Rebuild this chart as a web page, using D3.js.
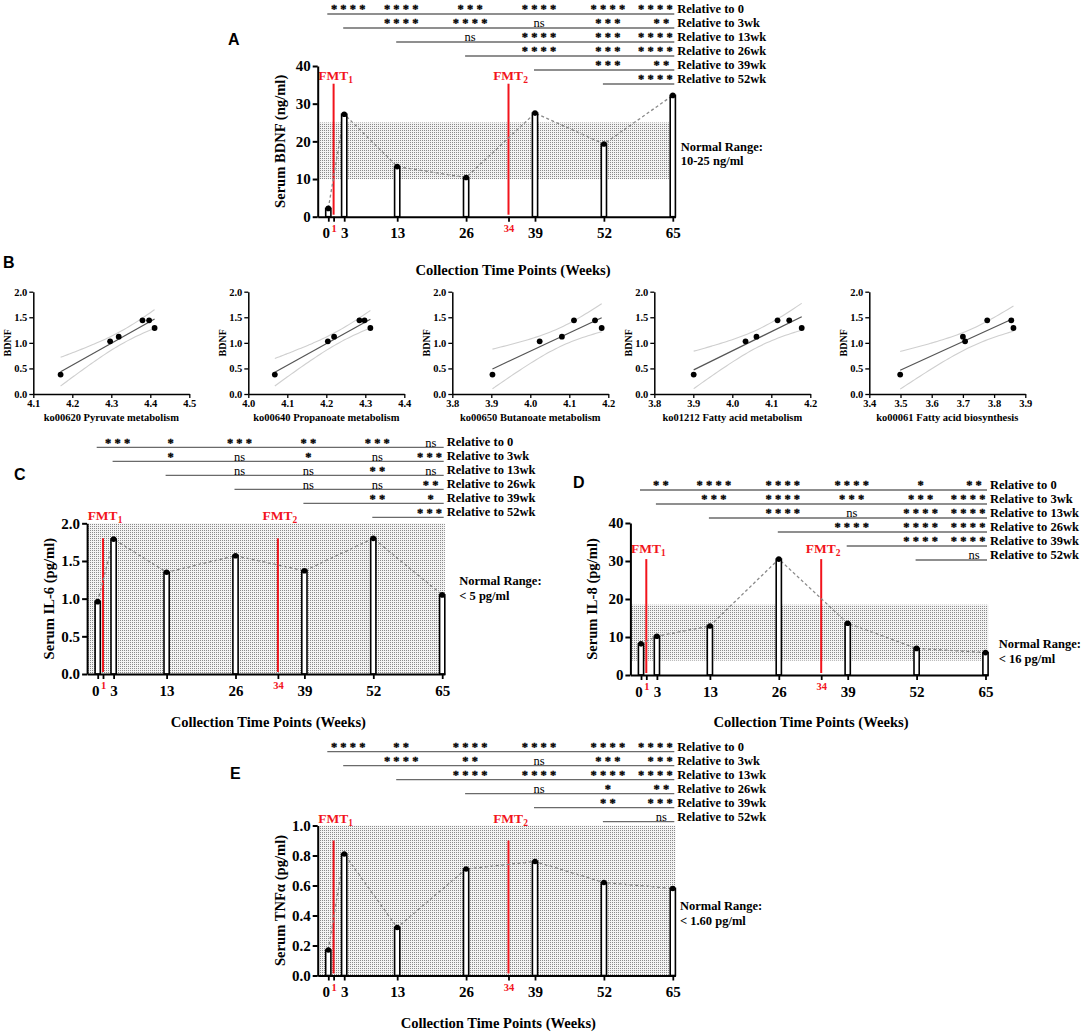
<!DOCTYPE html>
<html><head><meta charset="utf-8">
<script src="https://cdn.jsdelivr.net/npm/d3@7"></script>
<style>
body{margin:0;background:#fff}
svg{display:block}
text{font-family:"Liberation Serif","Times New Roman",serif;font-weight:bold;fill:#000}
</style>
</head><body>
<svg id="c" width="1084" height="1033"></svg>
<script>
// ---------- DATA ----------
const weeks = [0, 3, 13, 26, 39, 52, 65];
const fmtWeeks = [1, 34];
const xTickWeeks = [0, 1, 3, 13, 26, 34, 39, 52, 65];
const compWeeks = [3, 13, 26, 39, 52, 65];
const refWeeks = [0, 3, 13, 26, 39, 52];
const refLabels = ["Relative to 0", "Relative to 3wk", "Relative to 13wk", "Relative to 26wk", "Relative to 39wk", "Relative to 52wk"];

const bdnfValues = [2.2, 27.2, 13.3, 10.4, 27.5, 19.3, 32.2];
const il6Values  = [0.96, 1.79, 1.35, 1.57, 1.37, 1.80, 1.05];
const il8Values  = [8.2, 10.2, 12.9, 30.5, 13.6, 7.0, 5.9];
const tnfValues  = [0.17, 0.81, 0.32, 0.71, 0.76, 0.62, 0.58];

const bdnfTicks = [0, 10, 20, 30, 40];
const il6Ticks  = [0, 0.5, 1.0, 1.5, 2.0];
const il8Ticks  = [0, 10, 20, 30, 40];
const tnfTicks  = [0, 0.2, 0.4, 0.6, 0.8, 1.0];

const bdnfNormal = [10, 25];
const il6Normal  = [0, 2.0];
const il8Normal  = [3.8, 18.5];
const tnfNormal  = [0, 1.0];

const bdnfSig = [
  ["****", "****", "***", "****", "****", "****"],
  [null, "****", "****", "ns", "***", "**"],
  [null, null, "ns", "****", "***", "****"],
  [null, null, null, "****", "***", "****"],
  [null, null, null, null, "***", "**"],
  [null, null, null, null, null, "****"]
];
const il6Sig = [
  ["***", "*", "***", "**", "***", "ns"],
  [null, "*", "ns", "*", "ns", "***"],
  [null, null, "ns", "ns", "**", "ns"],
  [null, null, null, "ns", "ns", "**"],
  [null, null, null, null, "**", "*"],
  [null, null, null, null, null, "***"]
];
const il8Sig = [
  ["**", "****", "****", "****", "*", "**"],
  [null, "***", "****", "***", "***", "****"],
  [null, null, "****", "ns", "****", "****"],
  [null, null, null, "****", "****", "****"],
  [null, null, null, null, "****", "****"],
  [null, null, null, null, null, "ns"]
];
const tnfSig = [
  ["****", "**", "****", "****", "****", "****"],
  [null, "****", "**", "ns", "***", "***"],
  [null, null, "****", "****", "****", "****"],
  [null, null, null, "ns", "*", "**"],
  [null, null, null, null, "**", "***"],
  [null, null, null, null, null, "ns"]
];

// Panel B data
const bdnfB = [0.38, 1.03, 1.12, 1.44, 1.44, 1.29];
const koPyruvate   = [4.170, 4.297, 4.319, 4.380, 4.397, 4.411];
const koPropanoate = [4.068, 4.204, 4.220, 4.285, 4.298, 4.313];
const koButanoate  = [3.903, 4.024, 4.081, 4.112, 4.166, 4.183];
const koFattyMet   = [3.901, 4.034, 4.062, 4.116, 4.146, 4.178];
const koFattyBio   = [3.499, 3.707, 3.700, 3.778, 3.855, 3.862];
const koNames = ["ko00620 Pyruvate metabolism", "ko00640 Propanoate metabolism", "ko00650 Butanoate metabolism", "ko01212 Fatty acid metabolism", "ko00061 Fatty acid biosynthesis"];
const koDomains = [[4.1, 4.5], [4.0, 4.4], [3.8, 4.2], [3.8, 4.2], [3.4, 3.9]];
const bTicks = [0, 0.5, 1.0, 1.5, 2.0];

// ---------- DRAWING ----------
const svg = d3.select("#c");
const RED = "#f2141c";
const defs = svg.append("defs");
const pat = defs.append("pattern").attr("id", "dots").attr("width", 2).attr("height", 2).attr("patternUnits", "userSpaceOnUse");
pat.append("rect").attr("width", 2).attr("height", 2).attr("fill", "#f3f3f3");
pat.append("rect").attr("width", 1).attr("height", 1).attr("fill", "#8a8a8a");

const PXW = 5.3;

const panels = [
  {label: "A", lx: 228, ly: 45, values: bdnfValues, ticks: bdnfTicks, fmt: d3.format("d"), normal: bdnfNormal, sig: bdnfSig,
   x0: 328.3, y0: 216.7, yTop: 66, sigTop: 14, fmtTop: 35.3, fmtLabel: 37.6,
   yTitle: "Serum BDNF (ng/ml)", normText: ["Normal Range:", "10-25 ng/ml"], normX: 680.7, normY: 150.7, xtX: 513, xtY: 275},
  {label: "C", lx: 14, ly: 480, values: il6Values, ticks: il6Ticks, fmt: d3.format(".1f"), normal: il6Normal, sig: il6Sig,
   x0: 97.7, y0: 674, yTop: 523.3, sigTop: 447.3, fmtTop: 1.8, fmtLabel: 2.11,
   yTitle: "Serum IL-6 (pg/ml)", normText: ["Normal Range:", "< 5 pg/ml"], normX: 459.3, normY: 585, xtX: 268.3, xtY: 727},
  {label: "D", lx: 573, ly: 488, values: il8Values, ticks: il8Ticks, fmt: d3.format("d"), normal: il8Normal, sig: il8Sig,
   x0: 641, y0: 675, yTop: 523, sigTop: 490, fmtTop: 30.5, fmtLabel: 33.5,
   yTitle: "Serum IL-8 (pg/ml)", normText: ["Normal Range:", "< 16 pg/ml"], normX: 998.7, normY: 648, xtX: 811, xtY: 727},
  {label: "E", lx: 230, ly: 779, values: tnfValues, ticks: tnfTicks, fmt: d3.format(".1f"), normal: tnfNormal, sig: tnfSig,
   x0: 328.3, y0: 975.5, yTop: 825.5, sigTop: 751.7, fmtTop: 0.9, fmtLabel: 1.05,
   yTitle: "Serum TNF\u03b1 (pg/ml)", normText: ["Normal Range:", "< 1.60 pg/ml"], normX: 680, normY: 910, xtX: 498.3, xtY: 1028}
];

function panelLabel(t, x, y) {
  svg.append("text").text(t).attr("x", x).attr("y", y)
    .style("font-family", "'Liberation Sans', Arial, sans-serif").attr("font-size", 16);
}

panels.forEach(p => {
  const g = svg.append("g");
  const x = d3.scaleLinear().domain([-2, 65.5]).range([p.x0 - 2 * PXW, p.x0 + 65.5 * PXW]);
  const y = d3.scaleLinear().domain([0, p.ticks[p.ticks.length - 1]]).range([p.y0, p.yTop]);

  panelLabel(p.label, p.lx, p.ly);

  // shading (normal range)
  g.append("rect").attr("x", x(-2) + 1).attr("width", x(65.5) - x(-2) - 1)
    .attr("y", y(p.normal[1])).attr("height", y(p.normal[0]) - y(p.normal[1]))
    .attr("fill", "url(#dots)");

  // FMT lines
  fmtWeeks.forEach((w, i) => {
    g.append("line").attr("x1", x(w)).attr("x2", x(w)).attr("y1", y(0) - 2).attr("y2", y(p.fmtTop))
      .attr("stroke", RED).attr("stroke-width", 2);
    const t = g.append("text").attr("x", x(w) + 2).attr("y", y(p.fmtLabel) + 5)
      .attr("text-anchor", "middle").attr("font-size", 13.5).style("fill", RED);
    t.append("tspan").text("FMT");
    t.append("tspan").text(String(i + 1)).attr("font-size", 9.5).attr("dy", 3).style("fill", RED);
  });

  // dashed trend line
  g.append("path").datum(weeks.map((w, i) => [w, p.values[i]]))
    .attr("d", d3.line().x(d => x(d[0])).y(d => y(d[1])))
    .attr("fill", "none").attr("stroke", "#8a8a8a").attr("stroke-width", 1.3).attr("stroke-dasharray", "3,2.5");

  // bars
  g.selectAll(".bar").data(weeks).join("rect")
    .attr("x", w => x(w) - 2.6).attr("width", 5.2)
    .attr("y", (w, i) => y(p.values[i])).attr("height", (w, i) => y(0) - y(p.values[i]))
    .attr("fill", "#fff").attr("stroke", "#000").attr("stroke-width", 1.6);
  g.selectAll(".dot").data(weeks).join("circle")
    .attr("cx", w => x(w)).attr("cy", (w, i) => y(p.values[i])).attr("r", 2.8).attr("fill", "#000");

  // axes
  const ya = g.append("g").attr("transform", `translate(${x(-2)},0)`)
    .call(d3.axisLeft(y).tickValues(p.ticks).tickFormat(p.fmt).tickSize(5).tickSizeOuter(0).tickPadding(2));
  ya.select(".domain").attr("stroke-width", 2);
  ya.selectAll(".tick line").attr("stroke-width", 2);
  ya.selectAll("text").attr("font-size", 15).style("font-family", "'Liberation Serif',serif").style("font-weight", "bold");

  const xa = g.append("g").attr("transform", `translate(0,${y(0)})`)
    .call(d3.axisBottom(x).tickValues(xTickWeeks).tickFormat(d3.format("d")).tickSize(5).tickSizeOuter(0).tickPadding(6));
  xa.select(".domain").attr("stroke-width", 2);
  xa.selectAll(".tick line").attr("stroke-width", 1.8);
  xa.selectAll("text").attr("font-size", 15).style("font-family", "'Liberation Serif',serif").style("font-weight", "bold");
  xa.selectAll(".tick").filter(d => fmtWeeks.includes(d)).select("text")
    .attr("font-size", 10.5).attr("y", 8).style("fill", RED);
  xa.selectAll(".tick").filter(d => d === 0).select("text").attr("x", -2.5);

  // titles
  g.append("text").text(p.yTitle).attr("font-size", 14.6).attr("text-anchor", "middle")
    .attr("transform", `translate(${x(-2) - 33},${(p.y0 + p.yTop) / 2}) rotate(-90)`);
  g.append("text").text("Collection Time Points (Weeks)").attr("font-size", 14.6).attr("text-anchor", "middle")
    .attr("x", p.xtX).attr("y", p.xtY);
  p.normText.forEach((t, i) => g.append("text").text(t).attr("x", p.normX).attr("y", p.normY + i * 14.5).attr("font-size", 12.5));

  // significance rows
  const x2 = x(65) + 1.5;
  p.sig.forEach((row, i) => {
    const ly = p.sigTop + i * 14;
    g.append("line").attr("x1", x(refWeeks[i]) - 1).attr("x2", x2).attr("y1", ly).attr("y2", ly)
      .attr("stroke", "#6a6a6a").attr("stroke-width", 1.3);
    row.forEach((s, j) => {
      if (!s) return;
      const isNs = s === "ns";
      const t = g.append("text").text(s).attr("text-anchor", "middle").attr("font-size", 12.5);
      if (isNs) {
        t.style("font-weight", "normal").attr("y", ly - 0.8);
      } else {
        t.style("letter-spacing", "3.2px").attr("stroke", "#000").attr("stroke-width", 0.3).attr("y", ly - 0.7);
      }
      const shift = isNs ? 0 : 1.6;
      let cx = x(compWeeks[j]) + 4 + shift;
      if (j === row.length - 1) {
        const w = t.node().getComputedTextLength();
        cx = Math.min(x2 - 13, x2 - w / 2) + shift;
      }
      t.attr("x", cx);
    });
    g.append("text").text(refLabels[i]).attr("x", x2 + 3).attr("y", ly - 1).attr("font-size", 12.5);
  });
});

// ---------- Panel B ----------
panelLabel("B", 3, 268);
const bLefts = [33.3, 248.3, 452.3, 654.3, 869.3];
const bW = 156, bTop = 291.7, bBot = 394;
const koSeries = [koPyruvate, koPropanoate, koButanoate, koFattyMet, koFattyBio];
const T_CRIT = 2.776; // t(0.975, df=4)

koSeries.forEach((xs, k) => {
  const g = svg.append("g");
  const x = d3.scaleLinear().domain(koDomains[k]).range([bLefts[k], bLefts[k] + bW]);
  const y = d3.scaleLinear().domain([0, 2]).range([bBot, bTop]);
  const n = xs.length;
  const mx = d3.mean(xs), my = d3.mean(bdnfB);
  const sxx = d3.sum(xs, v => (v - mx) ** 2);
  const sxy = d3.sum(xs, (v, i) => (v - mx) * (bdnfB[i] - my));
  const b = sxy / sxx, a = my - b * mx;
  const sse = d3.sum(xs, (v, i) => (bdnfB[i] - (a + b * v)) ** 2);
  const s = Math.sqrt(sse / (n - 2));
  const [xmin, xmax] = d3.extent(xs);
  const grid = d3.range(0, 41).map(i => xmin + i * (xmax - xmin) / 40);
  const band = sign => grid.map(v => [v, a + b * v + sign * T_CRIT * s * Math.sqrt(1 / n + (v - mx) ** 2 / sxx)]);
  const ln = d3.line().x(d => x(d[0])).y(d => y(d[1])).curve(d3.curveMonotoneX);
  [1, -1].forEach(sg => g.append("path").attr("d", ln(band(sg))).attr("fill", "none").attr("stroke", "#cfcfcf").attr("stroke-width", 1.1));
  g.append("path").attr("d", ln([[xmin, a + b * xmin], [xmax, a + b * xmax]])).attr("fill", "none").attr("stroke", "#555").attr("stroke-width", 1.2);
  g.selectAll("circle").data(xs).join("circle").attr("cx", v => x(v)).attr("cy", (v, i) => y(bdnfB[i])).attr("r", 2.9).attr("fill", "#000");

  const ya = g.append("g").attr("transform", `translate(${bLefts[k]},0)`)
    .call(d3.axisLeft(y).tickValues(bTicks).tickFormat(d3.format(".1f")).tickSize(4).tickSizeOuter(0).tickPadding(2));
  const step = 0.1;
  const xt = d3.range(Math.round((koDomains[k][1] - koDomains[k][0]) / step) + 1).map(i => koDomains[k][0] + i * step);
  const xa = g.append("g").attr("transform", `translate(0,${bBot})`)
    .call(d3.axisBottom(x).tickValues(xt).tickFormat(d3.format(".1f")).tickSize(4).tickSizeOuter(0).tickPadding(2));
  [ya, xa].forEach(ax => {
    ax.select(".domain").attr("stroke-width", 1.5);
    ax.selectAll(".tick line").attr("stroke-width", 1.3);
    ax.selectAll("text").attr("font-size", 10.5).style("font-family", "'Liberation Serif',serif").style("font-weight", "bold");
  });
  g.append("text").text("BDNF").attr("font-size", 10).attr("text-anchor", "middle")
    .attr("transform", `translate(${bLefts[k] - 22},${(bTop + bBot) / 2}) rotate(-90)`);
  g.append("text").text(koNames[k]).attr("font-size", 10.5).attr("text-anchor", "middle")
    .attr("x", bLefts[k] + bW / 2).attr("y", 421);
});
</script>
</body></html>
